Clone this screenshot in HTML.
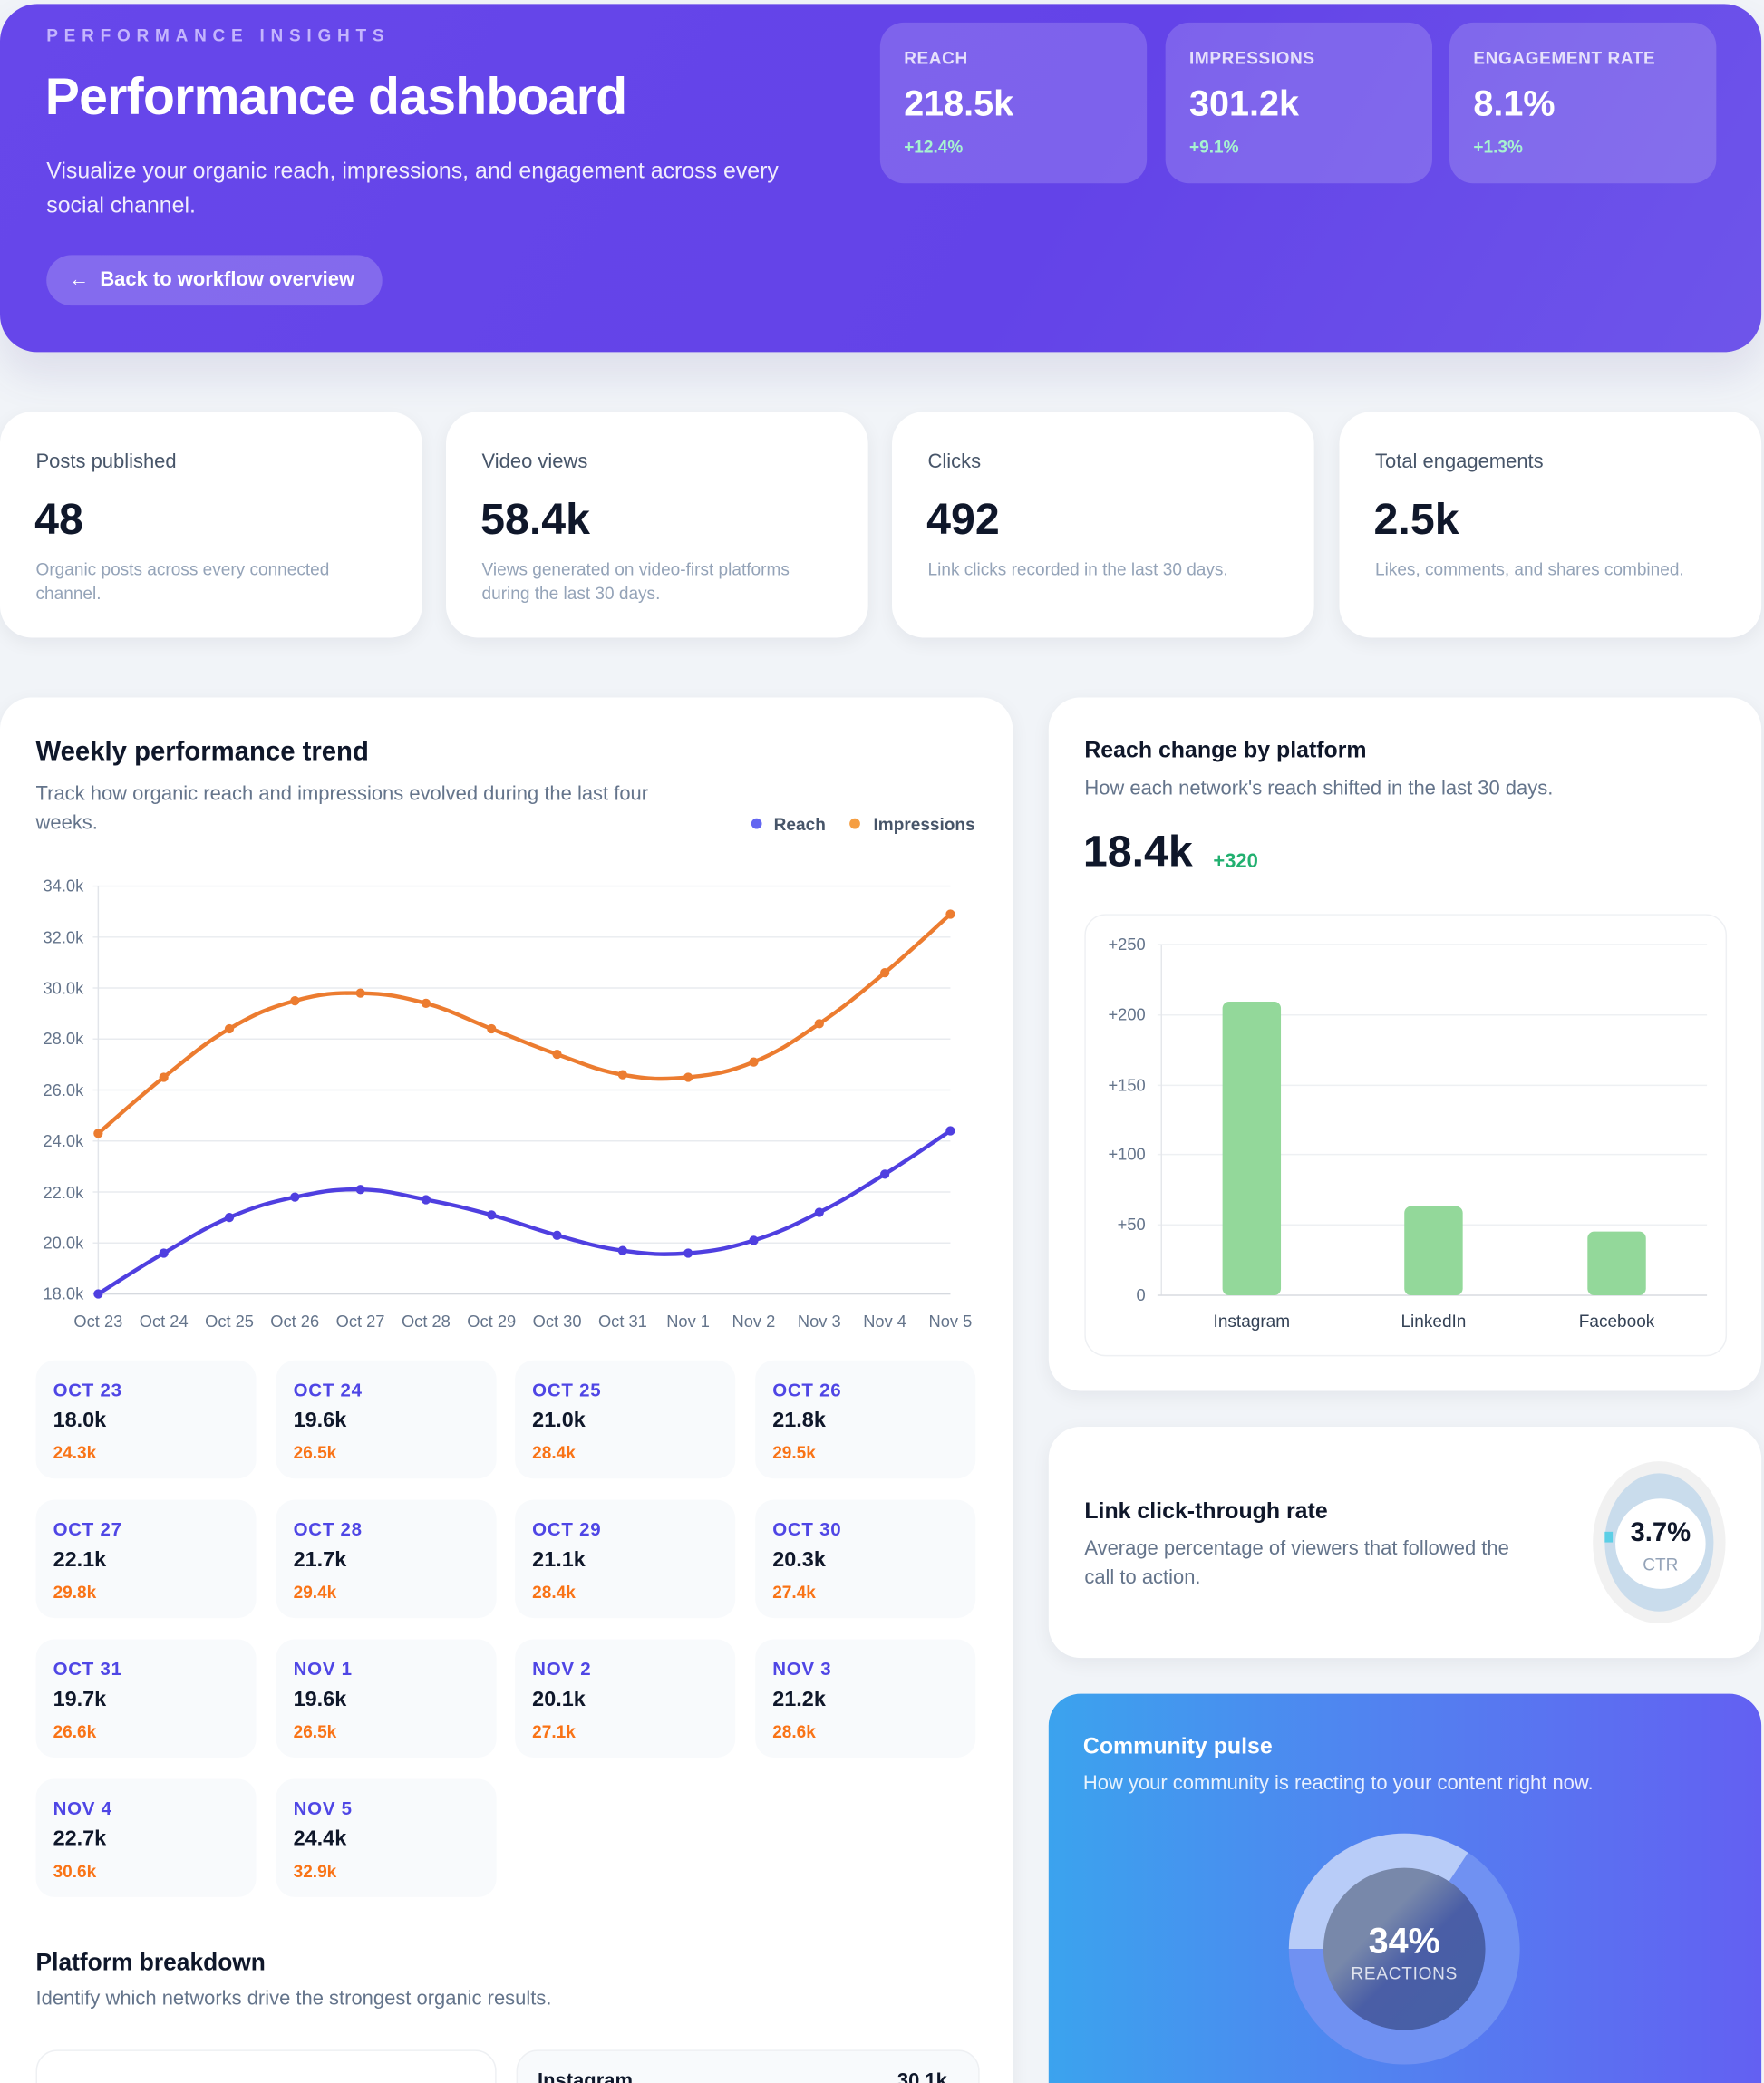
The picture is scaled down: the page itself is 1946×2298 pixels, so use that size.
<!DOCTYPE html>
<html><head><meta charset="utf-8">
<style>
html,body{margin:0;padding:0;width:1946px;height:2298px;overflow:hidden;background:#f1f4f8;}
#w{position:absolute;left:0;top:0;width:1329px;height:1568px;overflow:hidden;transform:scale(1.4643,1.4656);transform-origin:0 0;font-family:"Liberation Sans",Arial,sans-serif;}
.a{position:absolute;white-space:nowrap;}
.card{position:absolute;background:#fff;border-radius:24px;box-shadow:0 4px 14px rgba(15,23,42,.06);}
.hdr{position:absolute;left:0;top:3px;width:1327px;height:262px;border-radius:28px;background:linear-gradient(120deg,#6747ea 0%,#6343e8 60%,#6e55ea 100%);box-shadow:0 18px 30px rgba(80,70,150,.12);}
.st{position:absolute;top:17px;width:201px;height:121px;border-radius:18px;background:rgba(255,255,255,.17);}
.st .l{position:absolute;left:18px;top:19px;font-size:13px;font-weight:bold;color:rgba(255,255,255,.8);letter-spacing:.4px}
.st .v{position:absolute;left:18px;top:46px;font-size:27px;font-weight:bold;color:#fff}
.st .c{position:absolute;left:18px;top:86px;font-size:13px;font-weight:bold;color:#a7f3d0}
.k .l{position:absolute;left:27px;top:29px;font-size:15px;color:#475569}
.k .v{position:absolute;left:26px;top:62px;font-size:33px;font-weight:bold;color:#0f172a}
.k .d{position:absolute;left:27px;top:110px;font-size:13px;color:#94a3b8;line-height:18px;width:260px;white-space:normal}
.t{position:absolute;width:166px;height:89px;border-radius:14px;background:#f8fafc;}
.t .d{position:absolute;left:13px;top:14px;font-size:14px;font-weight:bold;color:#4f46e5;letter-spacing:.5px}
.t .r{position:absolute;left:13px;top:37px;font-size:16px;font-weight:bold;color:#0f172a}
.t .i{position:absolute;left:13px;top:62px;font-size:13px;font-weight:bold;color:#f97316}
</style></head><body><div id="w">
<div class="hdr"></div>
<div class="a" style="left:35px;top:19px;font-size:13px;letter-spacing:4.6px;color:#c4b5fd;font-weight:bold">PERFORMANCE INSIGHTS</div>
<div class="a" style="left:34px;top:52px;font-size:39px;font-weight:bold;color:#fff;letter-spacing:-.5px">Performance dashboard</div>
<div class="a" style="left:35px;top:116px;font-size:17px;color:rgba(255,255,255,.9);line-height:26px;white-space:normal;width:585px">Visualize your organic reach, impressions, and engagement across every social channel.</div>
<div class="a" style="left:35px;top:192px;width:253px;height:38px;border-radius:19px;background:rgba(255,255,255,.2)"></div>
<div class="a" style="left:52px;top:202px;font-size:15px;font-weight:bold;color:#fff">&#8592;&nbsp; Back to workflow overview</div>
<div class="st" style="left:663px"><div class="l">REACH</div><div class="v">218.5k</div><div class="c">+12.4%</div></div>
<div class="st" style="left:878px"><div class="l">IMPRESSIONS</div><div class="v">301.2k</div><div class="c">+9.1%</div></div>
<div class="st" style="left:1092px"><div class="l">ENGAGEMENT RATE</div><div class="v">8.1%</div><div class="c">+1.3%</div></div>

<div class="card k" style="left:0;top:310px;width:318px;height:170px"><div class="l">Posts published</div><div class="v">48</div><div class="d">Organic posts across every connected channel.</div></div>
<div class="card k" style="left:336px;top:310px;width:318px;height:170px"><div class="l">Video views</div><div class="v">58.4k</div><div class="d">Views generated on video-first platforms during the last 30 days.</div></div>
<div class="card k" style="left:672px;top:310px;width:318px;height:170px"><div class="l">Clicks</div><div class="v">492</div><div class="d">Link clicks recorded in the last 30 days.</div></div>
<div class="card k" style="left:1009px;top:310px;width:318px;height:170px"><div class="l">Total engagements</div><div class="v">2.5k</div><div class="d" style="width:290px">Likes, comments, and shares combined.</div></div>

<div class="card" style="left:0;top:525px;width:763px;height:1100px"></div>
<div class="a" style="left:27px;top:555px;font-size:20px;font-weight:bold;color:#0f172a">Weekly performance trend</div>
<div class="a" style="left:27px;top:587px;font-size:15px;color:#64748b;line-height:22px;white-space:normal;width:500px">Track how organic reach and impressions evolved during the last four weeks.</div>
<div class="a" style="left:566px;top:616px;width:8px;height:8px;border-radius:50%;background:#6366f1"></div>
<div class="a" style="left:583px;top:613px;font-size:13px;font-weight:bold;color:#475569">Reach</div>
<div class="a" style="left:640px;top:616px;width:8px;height:8px;border-radius:50%;background:#f59e42"></div>
<div class="a" style="left:658px;top:613px;font-size:13px;font-weight:bold;color:#475569">Impressions</div>
<svg class="a" style="left:0;top:640px" width="763" height="380" viewBox="0 640 763 380" font-family="Liberation Sans,Arial,sans-serif">
<g id="grid" stroke="#e8ebef" stroke-width="1"></g>
<line x1="74" y1="667" x2="74" y2="974" stroke="#e2e5ea"/>
<line x1="74" y1="974" x2="716" y2="974" stroke="#d5d9df"/>
<g font-size="12.5" fill="#64748b" text-anchor="end">
<text x="63" y="671">34.0k</text><text x="63" y="710">32.0k</text><text x="63" y="748">30.0k</text><text x="63" y="786">28.0k</text><text x="63" y="825">26.0k</text><text x="63" y="863">24.0k</text><text x="63" y="902">22.0k</text><text x="63" y="940">20.0k</text><text x="63" y="978">18.0k</text></g>
<g font-size="12.5" fill="#64748b" text-anchor="middle">
<text x="74" y="999">Oct 23</text><text x="123.4" y="999">Oct 24</text><text x="172.8" y="999">Oct 25</text><text x="222.1" y="999">Oct 26</text><text x="271.5" y="999">Oct 27</text><text x="320.9" y="999">Oct 28</text><text x="370.3" y="999">Oct 29</text><text x="419.7" y="999">Oct 30</text><text x="469.1" y="999">Oct 31</text><text x="518.4" y="999">Nov 1</text><text x="567.8" y="999">Nov 2</text><text x="617.2" y="999">Nov 3</text><text x="666.6" y="999">Nov 4</text><text x="716" y="999">Nov 5</text></g>
<path id="pi" fill="none" stroke="#ec7c30" stroke-width="3"/>
<path id="pr" fill="none" stroke="#4f3fe0" stroke-width="3"/>
<g id="dots"></g>
</svg>

<div class="t" style="left:27px;top:1024px"><div class="d">OCT 23</div><div class="r">18.0k</div><div class="i">24.3k</div></div>
<div class="t" style="left:208px;top:1024px"><div class="d">OCT 24</div><div class="r">19.6k</div><div class="i">26.5k</div></div>
<div class="t" style="left:388px;top:1024px"><div class="d">OCT 25</div><div class="r">21.0k</div><div class="i">28.4k</div></div>
<div class="t" style="left:569px;top:1024px"><div class="d">OCT 26</div><div class="r">21.8k</div><div class="i">29.5k</div></div>
<div class="t" style="left:27px;top:1129px"><div class="d">OCT 27</div><div class="r">22.1k</div><div class="i">29.8k</div></div>
<div class="t" style="left:208px;top:1129px"><div class="d">OCT 28</div><div class="r">21.7k</div><div class="i">29.4k</div></div>
<div class="t" style="left:388px;top:1129px"><div class="d">OCT 29</div><div class="r">21.1k</div><div class="i">28.4k</div></div>
<div class="t" style="left:569px;top:1129px"><div class="d">OCT 30</div><div class="r">20.3k</div><div class="i">27.4k</div></div>
<div class="t" style="left:27px;top:1234px"><div class="d">OCT 31</div><div class="r">19.7k</div><div class="i">26.6k</div></div>
<div class="t" style="left:208px;top:1234px"><div class="d">NOV 1</div><div class="r">19.6k</div><div class="i">26.5k</div></div>
<div class="t" style="left:388px;top:1234px"><div class="d">NOV 2</div><div class="r">20.1k</div><div class="i">27.1k</div></div>
<div class="t" style="left:569px;top:1234px"><div class="d">NOV 3</div><div class="r">21.2k</div><div class="i">28.6k</div></div>
<div class="t" style="left:27px;top:1339px"><div class="d">NOV 4</div><div class="r">22.7k</div><div class="i">30.6k</div></div>
<div class="t" style="left:208px;top:1339px"><div class="d">NOV 5</div><div class="r">24.4k</div><div class="i">32.9k</div></div>

<div class="a" style="left:27px;top:1467px;font-size:18px;font-weight:bold;color:#0f172a">Platform breakdown</div>
<div class="a" style="left:27px;top:1496px;font-size:15px;color:#64748b">Identify which networks drive the strongest organic results.</div>
<div class="a" style="left:27px;top:1543px;width:345px;height:60px;border-radius:16px;background:#fff;border:1px solid #eef0f3"></div>
<div class="a" style="left:389px;top:1543px;width:347px;height:60px;border-radius:16px;background:#f8fafc;border:1px solid #eef0f3"></div>
<div class="a" style="left:405px;top:1558px;font-size:15px;font-weight:bold;color:#0f172a">Instagram</div>
<div class="a" style="left:676px;top:1558px;font-size:15px;font-weight:bold;color:#0f172a">30.1k</div>

<div class="card" style="left:790px;top:525px;width:537px;height:522px"></div>
<div class="a" style="left:817px;top:555px;font-size:17px;font-weight:bold;color:#0f172a">Reach change by platform</div>
<div class="a" style="left:817px;top:585px;font-size:15px;color:#64748b">How each network's reach shifted in the last 30 days.</div>
<div class="a" style="left:816px;top:622px;font-size:33px;font-weight:bold;color:#0f172a">18.4k</div>
<div class="a" style="left:914px;top:640px;font-size:15px;font-weight:bold;color:#22b070">+320</div>
<div class="a" style="left:817px;top:688px;width:482px;height:331px;border-radius:16px;border:1px solid #eef0f3;background:#fff"></div>
<svg class="a" style="left:817px;top:688px" width="482" height="331" viewBox="817 688 482 331" font-family="Liberation Sans,Arial,sans-serif">
<g stroke="#eef0f3"><line x1="872" y1="711" x2="1286" y2="711"/><line x1="872" y1="764" x2="1286" y2="764"/><line x1="872" y1="817" x2="1286" y2="817"/><line x1="872" y1="869" x2="1286" y2="869"/><line x1="872" y1="922" x2="1286" y2="922"/></g>
<line x1="875" y1="711" x2="875" y2="975" stroke="#e5e7eb"/>
<line x1="872" y1="975" x2="1286" y2="975" stroke="#d9dce1"/>
<g font-size="12.5" fill="#64748b" text-anchor="end"><text x="863" y="715">+250</text><text x="863" y="768">+200</text><text x="863" y="821">+150</text><text x="863" y="873">+100</text><text x="863" y="926">+50</text><text x="863" y="979">0</text></g>
<g fill="#93d89a"><rect x="921" y="754" width="44" height="221" rx="5"/><rect x="1058" y="908" width="44" height="67" rx="5"/><rect x="1196" y="927" width="44" height="48" rx="5"/></g>
<g font-size="13" fill="#334155" text-anchor="middle"><text x="943" y="999">Instagram</text><text x="1080" y="999">LinkedIn</text><text x="1218" y="999">Facebook</text></g>
</svg>

<div class="card" style="left:790px;top:1074px;width:537px;height:174px"></div>
<div class="a" style="left:817px;top:1128px;font-size:17px;font-weight:bold;color:#0f172a">Link click-through rate</div>
<div class="a" style="left:817px;top:1155px;font-size:15px;color:#64748b;line-height:22px;white-space:normal;width:345px">Average percentage of viewers that followed the call to action.</div>
<svg class="a" style="left:1195px;top:1096px" width="110" height="130" viewBox="1195 1096 110 130" font-family="Liberation Sans,Arial,sans-serif">
<ellipse cx="1250" cy="1161" rx="50" ry="61" fill="#f1f1f1"/>
<ellipse cx="1250" cy="1161" rx="41" ry="52" fill="#c9dcec"/>
<rect x="1209" y="1153" width="6" height="8" fill="#5ccfe6"/>
<circle cx="1251" cy="1162" r="34" fill="#fff"/>
<text x="1251" y="1160" font-size="20" font-weight="bold" fill="#0f172a" text-anchor="middle">3.7%</text>
<text x="1251" y="1182" font-size="13" fill="#94a3b8" text-anchor="middle">CTR</text>
</svg>

<div class="a" style="left:790px;top:1275px;width:537px;height:330px;border-radius:24px;background:linear-gradient(90deg,#3ba3ee 0%,#5380f0 50%,#6360f2 100%)"></div>
<div class="a" style="left:816px;top:1305px;font-size:17px;font-weight:bold;color:#fff">Community pulse</div>
<div class="a" style="left:816px;top:1334px;font-size:15px;color:rgba(255,255,255,.88)">How your community is reacting to your content right now.</div>
<svg class="a" style="left:960px;top:1370px" width="200" height="199" viewBox="960 1370 200 199" font-family="Liberation Sans,Arial,sans-serif">
<defs><linearGradient id="ig" x1="0" y1="0" x2="1" y2="1"><stop offset="0.35" stop-color="#7888aa"/><stop offset="0.55" stop-color="#4a5ea6"/><stop offset="1" stop-color="#4560a5"/></linearGradient></defs>
<circle cx="1058" cy="1467" r="87" fill="#7091f2"/>
<path d="M1058 1467 L971 1467 A87 87 0 0 1 1106 1394.6 Z" fill="#b8ccf8"/>
<circle cx="1058" cy="1467" r="61" fill="url(#ig)"/>
<text x="1058" y="1470" font-size="27" font-weight="bold" fill="#fff" text-anchor="middle">34%</text>
<text x="1058" y="1490" font-size="13" fill="rgba(255,255,255,.8)" text-anchor="middle" letter-spacing=".5">REACTIONS</text>
</svg>
</div>
<script>
var R=[18.0,19.6,21.0,21.8,22.1,21.7,21.1,20.3,19.7,19.6,20.1,21.2,22.7,24.4],I=[24.3,26.5,28.4,29.5,29.8,29.4,28.4,27.4,26.6,26.5,27.1,28.6,30.6,32.9];
function X(i){return 74+i*642/13}function Y(v){return 974-(v-18)*19.1875}
function path(d){var p=d.map(function(v,i){return[X(i),Y(v)]});var s="M"+p[0][0]+" "+p[0][1];
for(var i=0;i<p.length-1;i++){var p0=p[i-1]||p[i],p1=p[i],p2=p[i+1],p3=p[i+2]||p2,t=0.2;
s+=" C"+(p1[0]+(p2[0]-p0[0])*t)+" "+(p1[1]+(p2[1]-p0[1])*t)+" "+(p2[0]-(p3[0]-p1[0])*t)+" "+(p2[1]-(p3[1]-p1[1])*t)+" "+p2[0]+" "+p2[1];}return s;}
document.getElementById('pi').setAttribute('d',path(I));document.getElementById('pr').setAttribute('d',path(R));
var g="";for(var k=0;k<9;k++){var y=667+k*38.375;g+='<line x1="70" y1="'+y+'" x2="716" y2="'+y+'"/>';}
document.getElementById('grid').innerHTML=g;
var d="";for(var i=0;i<14;i++){d+='<circle cx="'+X(i)+'" cy="'+Y(I[i])+'" r="3.5" fill="#ec7c30"/><circle cx="'+X(i)+'" cy="'+Y(R[i])+'" r="3.5" fill="#4f3fe0"/>';}
document.getElementById('dots').innerHTML=d;
</script>
</body></html>
